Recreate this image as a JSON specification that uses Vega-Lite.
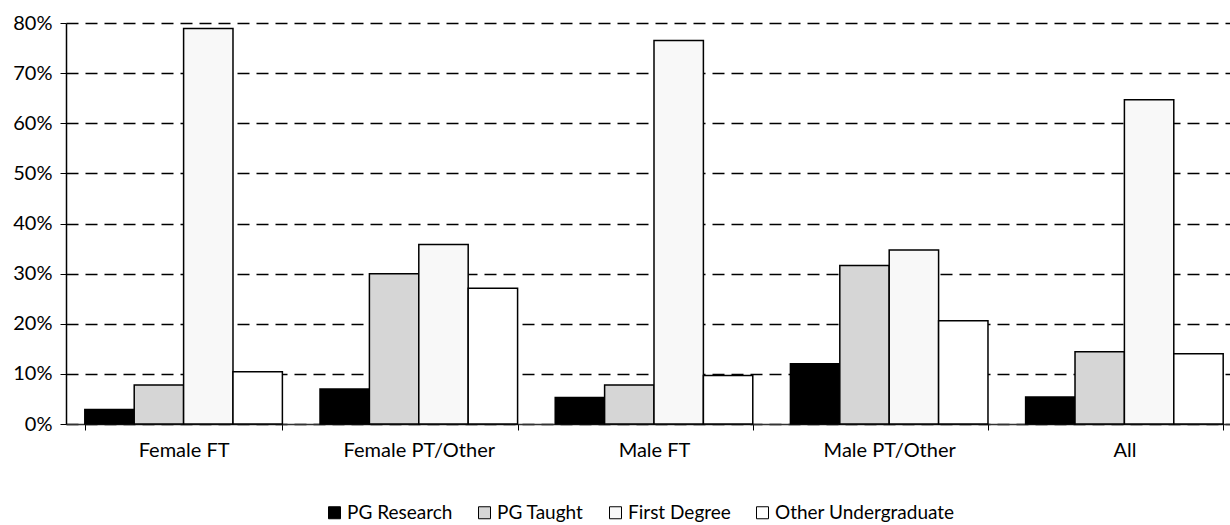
{
  "$schema": "https://vega.github.io/schema/vega-lite/v6.json",
  "autosize": {"type": "none"},
  "padding": {"left": 66, "top": 23, "right": 0, "bottom": 101},
  "width": 1164,
  "height": 401,
  "background": "white",
  "config": {
    "font": "Lato",
    "view": {"stroke": null}
  },
  "data": {
    "values": [
      {"group": "Female FT", "type": "PG Research", "value": 0.029},
      {"group": "Female FT", "type": "PG Taught", "value": 0.078},
      {"group": "Female FT", "type": "First Degree", "value": 0.789},
      {"group": "Female FT", "type": "Other Undergraduate", "value": 0.104},
      {"group": "Female PT/Other", "type": "PG Research", "value": 0.070},
      {"group": "Female PT/Other", "type": "PG Taught", "value": 0.300},
      {"group": "Female PT/Other", "type": "First Degree", "value": 0.358},
      {"group": "Female PT/Other", "type": "Other Undergraduate", "value": 0.271},
      {"group": "Male FT", "type": "PG Research", "value": 0.053},
      {"group": "Male FT", "type": "PG Taught", "value": 0.078},
      {"group": "Male FT", "type": "First Degree", "value": 0.765},
      {"group": "Male FT", "type": "Other Undergraduate", "value": 0.097},
      {"group": "Male PT/Other", "type": "PG Research", "value": 0.120},
      {"group": "Male PT/Other", "type": "PG Taught", "value": 0.316},
      {"group": "Male PT/Other", "type": "First Degree", "value": 0.347},
      {"group": "Male PT/Other", "type": "Other Undergraduate", "value": 0.206},
      {"group": "All", "type": "PG Research", "value": 0.054},
      {"group": "All", "type": "PG Taught", "value": 0.144},
      {"group": "All", "type": "First Degree", "value": 0.647},
      {"group": "All", "type": "Other Undergraduate", "value": 0.140}
    ]
  },
  "mark": {"type": "bar", "stroke": "black", "strokeWidth": 1.5},
  "encoding": {
    "x": {
      "field": "group",
      "type": "nominal",
      "sort": ["Female FT", "Female PT/Other", "Male FT", "Male PT/Other", "All"],
      "scale": {"range": [0, 1176], "paddingInner": 0.16, "paddingOuter": 0.08},
      "axis": {
        "title": null,
        "labelAngle": 0,
        "labelFontSize": 20,
        "labelColor": "black",
        "labelPadding": 10,
        "tickBand": "extent",
        "tickColor": "black",
        "tickSize": 6,
        "domainColor": "#333333",
        "domainWidth": 1.5,
        "grid": false
      }
    },
    "xOffset": {
      "field": "type",
      "type": "nominal",
      "sort": ["PG Research", "PG Taught", "First Degree", "Other Undergraduate"]
    },
    "y": {
      "field": "value",
      "type": "quantitative",
      "scale": {"domain": [0, 0.8], "nice": false},
      "axis": {
        "title": null,
        "format": ".0%",
        "values": [0, 0.1, 0.2, 0.3, 0.4, 0.5, 0.6, 0.7, 0.8],
        "labelFontSize": 20,
        "labelColor": "black",
        "labelPadding": 8,
        "tickColor": "black",
        "tickSize": 6,
        "domainColor": "black",
        "domainWidth": 1.5,
        "grid": true,
        "gridColor": "black",
        "gridWidth": 1.5,
        "gridDash": [12, 7]
      }
    },
    "fill": {
      "field": "type",
      "type": "nominal",
      "sort": ["PG Research", "PG Taught", "First Degree", "Other Undergraduate"],
      "scale": {
        "domain": ["PG Research", "PG Taught", "First Degree", "Other Undergraduate"],
        "range": ["#000000", "#d6d6d6", "#f8f8f8", "#ffffff"]
      },
      "legend": {
        "title": null,
        "orient": "none",
        "direction": "horizontal",
        "legendX": 259,
        "legendY": 480,
        "symbolType": "square",
        "symbolSize": 144,
        "symbolStrokeColor": "black",
        "symbolStrokeWidth": 1,
        "labelFontSize": 19,
        "labelColor": "black",
        "labelOffset": 3,
        "labelLimit": 400,
        "columnPadding": 22
      }
    }
  }
}
